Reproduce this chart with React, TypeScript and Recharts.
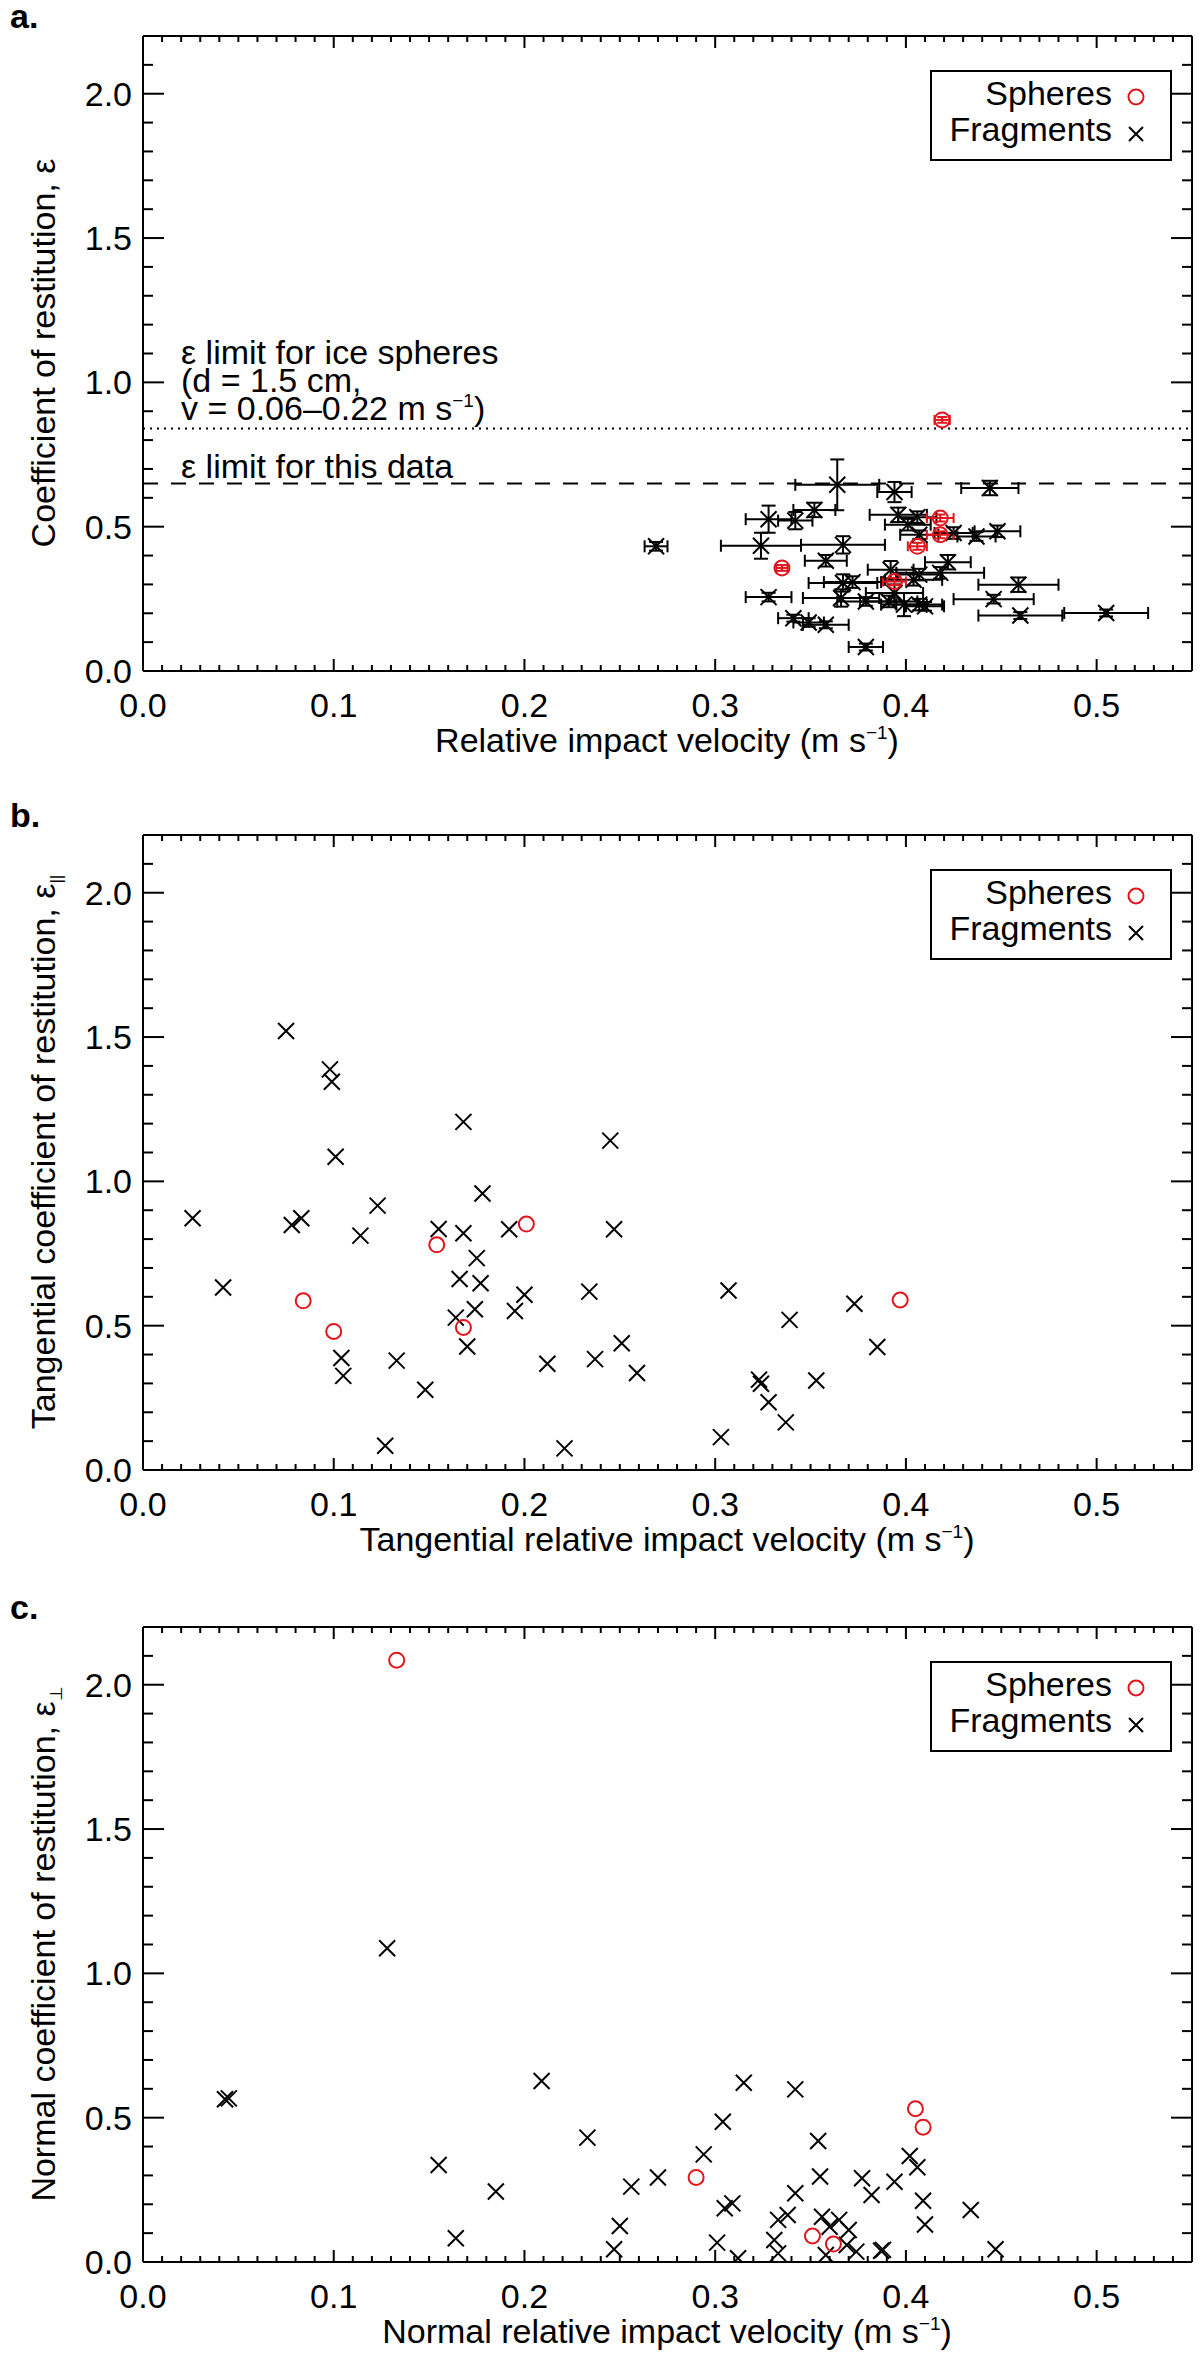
import React from "react";
import { ScatterChart, Scatter, XAxis, YAxis, ErrorBar, ReferenceLine } from "recharts";

const FONT = "'Liberation Sans', Arial, Helvetica, sans-serif";
const FS = 34;
const RED = "#e3141b";

// axis ticks
const xMajor = [0, 0.1, 0.2, 0.3, 0.4, 0.5];
const yMajor = [0, 0.5, 1.0, 1.5, 2.0];
const xTicks = Array.from({ length: 56 }, (_, i) => i / 100);
const yTicks = Array.from({ length: 23 }, (_, i) => i / 10);

// panel a: total restitution, with error bars
const aSphX = [0.419, 0.418, 0.418, 0.406, 0.394, 0.335];
const aSphY = [0.87, 0.53, 0.472, 0.432, 0.31, 0.357];
const aSphXErr = [0.004, 0.007, 0.007, 0.005, 0.006, 0.003];
const aSphYErr = [0.01, 0.012, 0.012, 0.012, 0.012, 0.01];

const aFragX = [
  0.269, 0.324, 0.328, 0.342, 0.352, 0.364, 0.367, 0.358, 0.328, 0.341,
  0.349, 0.358, 0.379, 0.367, 0.372, 0.366, 0.379, 0.391, 0.399, 0.407,
  0.41, 0.394, 0.444, 0.396, 0.406, 0.401, 0.407, 0.425, 0.437, 0.448,
  0.422, 0.418, 0.392, 0.407, 0.404, 0.459, 0.446, 0.46, 0.505, 0.394,
];
const aFragY = [
  0.432, 0.434, 0.526, 0.521, 0.558, 0.645, 0.437, 0.382, 0.256, 0.183,
  0.168, 0.16, 0.083, 0.305, 0.308, 0.253, 0.241, 0.241, 0.23, 0.23,
  0.224, 0.62, 0.634, 0.541, 0.533, 0.507, 0.472, 0.478, 0.466, 0.484,
  0.377, 0.34, 0.351, 0.334, 0.316, 0.299, 0.249, 0.192, 0.201, 0.27,
];
const aFragXErr = [
  0.006, 0.021, 0.012, 0.009, 0.011, 0.022, 0.022, 0.011, 0.012, 0.008,
  0.008, 0.012, 0.009, 0.018, 0.015, 0.02, 0.015, 0.015, 0.012, 0.012,
  0.01, 0.009, 0.015, 0.015, 0.01, 0.012, 0.01, 0.01, 0.01, 0.012,
  0.012, 0.023, 0.012, 0.012, 0.015, 0.021, 0.021, 0.022, 0.022, 0.015,
];
const aFragYErr = [
  0.015, 0.045, 0.047, 0.03, 0.025, 0.088, 0.03, 0.02, 0.015, 0.012,
  0.015, 0.012, 0.012, 0.03, 0.02, 0.03, 0.015, 0.02, 0.04, 0.02,
  0.015, 0.035, 0.025, 0.025, 0.02, 0.02, 0.015, 0.02, 0.015, 0.02,
  0.025, 0.02, 0.03, 0.02, 0.02, 0.025, 0.015, 0.012, 0.012, 0.03,
];

// panel b: tangential
const bSphX = [0.084, 0.1, 0.154, 0.168, 0.201, 0.397];
const bSphY = [0.586, 0.48, 0.78, 0.494, 0.852, 0.589];
const bFragX = [
  0.075, 0.098, 0.099, 0.101, 0.168, 0.245, 0.026, 0.042, 0.078, 0.083,
  0.123, 0.114, 0.155, 0.168, 0.178, 0.192, 0.247, 0.175, 0.166, 0.177,
  0.2, 0.234, 0.307, 0.174, 0.164, 0.195, 0.373, 0.339, 0.17, 0.251,
  0.385, 0.104, 0.105, 0.133, 0.148, 0.212, 0.237, 0.259, 0.323, 0.324,
  0.328, 0.353, 0.337, 0.127, 0.221, 0.303,
];
const bFragY = [
  1.521, 1.388, 1.345, 1.085, 1.206, 1.141, 0.872, 0.632, 0.849, 0.872,
  0.916, 0.812, 0.835, 0.82, 0.958, 0.834, 0.834, 0.734, 0.662, 0.647,
  0.607, 0.618, 0.622, 0.557, 0.528, 0.551, 0.576, 0.52, 0.428, 0.439,
  0.426, 0.388, 0.326, 0.379, 0.278, 0.368, 0.384, 0.336, 0.313, 0.299,
  0.235, 0.31, 0.165, 0.084, 0.075, 0.114,
];

// panel c: normal
const cSphX = [0.133, 0.29, 0.405, 0.409, 0.351, 0.362];
const cSphY = [2.085, 0.293, 0.531, 0.467, 0.09, 0.062];
const cFragX = [
  0.128, 0.043, 0.045, 0.209, 0.155, 0.185, 0.164, 0.233, 0.256, 0.27,
  0.25, 0.247, 0.294, 0.304, 0.315, 0.342, 0.305, 0.309, 0.301, 0.312,
  0.333, 0.338, 0.331, 0.333, 0.342, 0.354, 0.355, 0.356, 0.36, 0.365,
  0.37, 0.369, 0.358, 0.374, 0.377, 0.382, 0.394, 0.387, 0.388, 0.402,
  0.406, 0.409, 0.41, 0.434, 0.447,
];
const cFragY = [
  1.087, 0.564, 0.567, 0.627, 0.336, 0.244, 0.082, 0.431, 0.261, 0.293,
  0.125, 0.044, 0.373, 0.486, 0.621, 0.598, 0.186, 0.203, 0.067, 0.013,
  0.146, 0.163, 0.076, 0.03, 0.238, 0.419, 0.296, 0.157, 0.122, 0.146,
  0.111, 0.059, 0.024, 0.036, 0.29, 0.232, 0.278, 0.039, 0.042, 0.367,
  0.328, 0.212, 0.13, 0.18, 0.044,
];

const zip = (xs: number[], ys: number[], xe?: number[], ye?: number[]) =>
  xs.map((x, i) => ({ x, y: ys[i], xe: xe ? xe[i] : 0, ye: ye ? ye[i] : 0 }));

const isMajor = (v: number, majors: number[]) => majors.some((m) => Math.abs(m - v) < 1e-6);
const tickStroke = { stroke: "#000", strokeWidth: 2 };

function BottomTick({ x, y, payload }: any) {
  const major = isMajor(payload.value, xMajor);
  return (
    <g>
      <line x1={x} x2={x} y1={y} y2={y - (major ? 12 : 6)} {...tickStroke} />
      {major && (
        <text x={x} y={y + 46} textAnchor="middle" fontSize={FS} fontFamily={FONT} fill="#000">
          {payload.value.toFixed(1)}
        </text>
      )}
    </g>
  );
}

function TopTick({ x, y, payload }: any) {
  const major = isMajor(payload.value, xMajor);
  return <line x1={x} x2={x} y1={y} y2={y + (major ? 12 : 6)} {...tickStroke} />;
}

function LeftTick({ x, y, payload }: any) {
  const major = isMajor(payload.value, yMajor);
  return (
    <g>
      <line x1={x} x2={x + (major ? 21 : 10)} y1={y} y2={y} {...tickStroke} />
      {major && (
        <text x={x - 11} y={y + 12} textAnchor="end" fontSize={FS} fontFamily={FONT} fill="#000">
          {payload.value.toFixed(1)}
        </text>
      )}
    </g>
  );
}

function RightTick({ x, y, payload }: any) {
  const major = isMajor(payload.value, yMajor);
  return <line x1={x} x2={x - (major ? 21 : 10)} y1={y} y2={y} {...tickStroke} />;
}

const Cross = ({ cx, cy }: any) => (
  <path d={`M${cx - 8},${cy - 8}L${cx + 8},${cy + 8}M${cx - 8},${cy + 8}L${cx + 8},${cy - 8}`} stroke="#000" strokeWidth={2} fill="none" />
);
const Ring = ({ cx, cy }: any) => <circle cx={cx} cy={cy} r={7.5} stroke={RED} strokeWidth={2} fill="none" />;

const sup = (
  <>
    <tspan dy={-13} fontSize={19}>−1</tspan>
    <tspan dy={13}>)</tspan>
  </>
);

const iceLabel = ({ viewBox }: any) => {
  const x = viewBox.x + 38;
  const y = viewBox.y;
  return (
    <text fontFamily={FONT} fontSize={FS} fill="#000">
      <tspan x={x} y={y - 65}>ε limit for ice spheres</tspan>
      <tspan x={x} y={y - 37}>(d = 1.5 cm,</tspan>
      <tspan x={x} y={y - 9}>v = 0.06–0.22 m s{sup}</tspan>
    </text>
  );
};

const dataLabel = ({ viewBox }: any) => (
  <text x={viewBox.x + 38} y={viewBox.y - 5} fontFamily={FONT} fontSize={FS} fill="#000">
    ε limit for this data
  </text>
);

function Panel({ top, letter, spheres, fragments, errors, xTitle, yTitle, yIdx, lines }: any) {
  const W = 1200;
  const H = 790;
  return (
    <div style={{ position: "absolute", left: 0, top, width: W, height: H }}>
      <ScatterChart width={W} height={H} margin={{ top: 32, right: 4, bottom: 59, left: 83 }}>
        <XAxis dataKey="x" type="number" domain={[0, 0.55]} ticks={xTicks} interval={0} allowDataOverflow
          height={60} tickSize={0} tickMargin={0} tick={<BottomTick />} tickLine={false}
          axisLine={{ stroke: "#000", strokeWidth: 2 }} />
        <XAxis xAxisId="top" orientation="top" dataKey="x" type="number" domain={[0, 0.55]} ticks={xTicks}
          interval={0} allowDataOverflow height={4} tickSize={0} tickMargin={0} tick={<TopTick />}
          tickLine={false} axisLine={{ stroke: "#000", strokeWidth: 2 }} />
        <YAxis dataKey="y" type="number" domain={[0, 2.2]} ticks={yTicks} interval={0} allowDataOverflow
          width={60} tickSize={0} tickMargin={0} tick={<LeftTick />} tickLine={false}
          axisLine={{ stroke: "#000", strokeWidth: 2 }} />
        <YAxis yAxisId="right" orientation="right" dataKey="y" type="number" domain={[0, 2.2]} ticks={yTicks}
          interval={0} allowDataOverflow width={4} tickSize={0} tickMargin={0} tick={<RightTick />}
          tickLine={false} axisLine={{ stroke: "#000", strokeWidth: 2 }} />
        {lines && (
          <ReferenceLine y={0.84} stroke="#000" strokeWidth={2} strokeDasharray="2 5" label={iceLabel} />
        )}
        {lines && (
          <ReferenceLine y={0.65} stroke="#000" strokeWidth={2} strokeDasharray="15 13" label={dataLabel} />
        )}
        <Scatter data={fragments} shape={Cross} isAnimationActive={false}>
          {errors ? <ErrorBar dataKey="xe" direction="x" width={6} stroke="#000" strokeWidth={2} isAnimationActive={false} /> : null}
          {errors ? <ErrorBar dataKey="ye" direction="y" width={7} stroke="#000" strokeWidth={2} isAnimationActive={false} /> : null}
        </Scatter>
        <Scatter data={spheres} shape={Ring} isAnimationActive={false}>
          {errors ? <ErrorBar dataKey="xe" direction="x" width={5} stroke={RED} strokeWidth={2} isAnimationActive={false} /> : null}
          {errors ? <ErrorBar dataKey="ye" direction="y" width={5} stroke={RED} strokeWidth={2} isAnimationActive={false} /> : null}
        </Scatter>
      </ScatterChart>
      <svg width={W} height={H} style={{ position: "absolute", left: 0, top: 0, pointerEvents: "none" }}
        fontFamily={FONT} fill="#000">
        <text x={10} y={28} fontSize={FS} fontWeight="bold">{letter}</text>
        <text x={667} y={752} fontSize={FS} textAnchor="middle">
          {xTitle} (m s{sup}
        </text>
        <text x={55} y={353} fontSize={FS} textAnchor="middle" transform="rotate(-90, 55, 353)">
          {yTitle}, ε
          {yIdx ? <tspan dy={7} fontSize={17}>{yIdx}</tspan> : null}
        </text>
        <g transform="translate(931, 71)">
          <rect x={0} y={0} width={240} height={89} fill="#fff" stroke="#000" strokeWidth={2} />
          <text x={181} y={34} fontSize={FS} textAnchor="end">Spheres</text>
          <circle cx={205} cy={26} r={7.5} stroke={RED} strokeWidth={2} fill="none" />
          <text x={181} y={70} fontSize={FS} textAnchor="end">Fragments</text>
          <path d="M198,56L212,70M198,70L212,56" stroke="#000" strokeWidth={2} />
        </g>
      </svg>
    </div>
  );
}

export default function App() {
  return (
    <div style={{ position: "absolute", left: 0, top: 0, width: 1200, height: 2356, background: "#fff" }}>
      <Panel top={0} letter="a." lines errors
        spheres={zip(aSphX, aSphY, aSphXErr, aSphYErr)}
        fragments={zip(aFragX, aFragY, aFragXErr, aFragYErr)}
        xTitle="Relative impact velocity" yTitle="Coefficient of restitution" />
      <Panel top={799} letter="b." spheres={zip(bSphX, bSphY)} fragments={zip(bFragX, bFragY)}
        xTitle="Tangential relative impact velocity" yTitle="Tangential coefficient of restitution" yIdx="||" />
      <Panel top={1591} letter="c." spheres={zip(cSphX, cSphY)} fragments={zip(cFragX, cFragY)}
        xTitle="Normal relative impact velocity" yTitle="Normal coefficient of restitution" yIdx="⊥" />
    </div>
  );
}
